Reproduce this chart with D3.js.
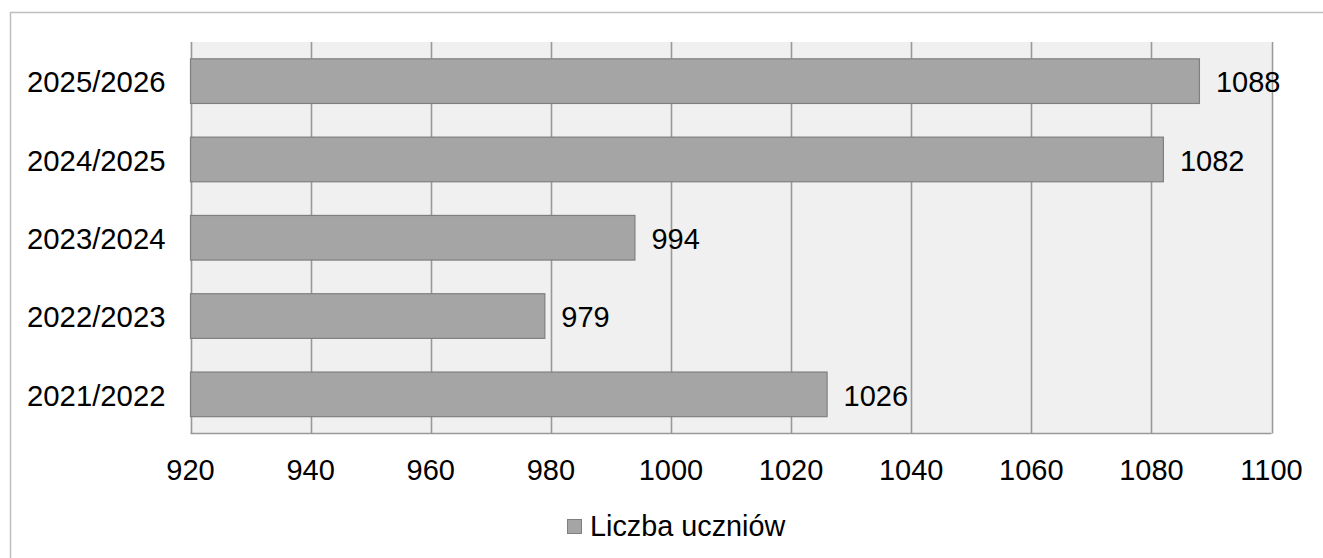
<!DOCTYPE html>
<html><head><meta charset="utf-8">
<script src="https://cdn.jsdelivr.net/npm/d3@7"></script>
<style>body{margin:0;background:#fff}svg{display:block}text{font-family:"Liberation Sans",Arial,sans-serif;fill:#000}</style>
</head><body>
<svg id="c" width="1323" height="558"></svg>
<script>
const categories = ["2025/2026","2024/2025","2023/2024","2022/2023","2021/2022"];
const values = [1088,1082,994,979,1026];
const xTicks = [920,940,960,980,1000,1020,1040,1060,1080,1100];
const seriesName = "Liczba uczniów";

const svg = d3.select("#c");
const m = {l:190.5, r:1271.5, t:42, b:433.5};
svg.append("rect").attr("x",10.5).attr("y",12.5).attr("width",1330).attr("height",600)
  .attr("fill","#fff").attr("stroke","#bfbfbf").attr("stroke-width",1.5);

const x = d3.scaleLinear().domain([920,1100]).range([m.l,m.r]);
const y = d3.scaleBand().domain(categories).range([m.t,m.b]).paddingInner(0.43).paddingOuter(0.215);

svg.append("rect").attr("x",m.l).attr("y",m.t).attr("width",m.r-m.l).attr("height",m.b-m.t).attr("fill","#f0f0f0");
svg.append("g").selectAll("line").data(xTicks).join("line")
  .attr("x1",d=>Math.round(x(d))+0.5).attr("x2",d=>Math.round(x(d))+0.5)
  .attr("y1",m.t).attr("y2",m.b).attr("stroke","#999999").attr("stroke-width",1.6);
svg.append("line").attr("x1",m.l).attr("x2",m.r).attr("y1",m.b).attr("y2",m.b).attr("stroke","#999999").attr("stroke-width",1.6);

svg.append("g").selectAll("rect").data(values).join("rect")
  .attr("x",x(920)).attr("y",(d,i)=>y(categories[i]))
  .attr("width",d=>x(d)-x(920)).attr("height",y.bandwidth())
  .attr("fill","#a5a5a5").attr("stroke","#7f7f7f").attr("stroke-width",1.2);

svg.append("g").selectAll("text").data(values).join("text")
  .attr("x",d=>x(d)+16.5).attr("y",(d,i)=>y(categories[i])+y.bandwidth()/2+1)
  .attr("dy","0.35em").attr("font-size",29).text(d=>d);

svg.append("g").selectAll("text").data(categories).join("text")
  .attr("x",m.l-25).attr("y",d=>y(d)+y.bandwidth()/2+1).attr("dy","0.35em")
  .attr("text-anchor","end").attr("font-size",29.3).text(d=>d);

svg.append("g").selectAll("text").data(xTicks).join("text")
  .attr("x",d=>x(d)).attr("y",479.5).attr("text-anchor","middle").attr("font-size",29).text(d=>d);

svg.append("rect").attr("x",567.5).attr("y",519.5).attr("width",14).attr("height",14)
  .attr("fill","#a5a5a5").attr("stroke","#7f7f7f");
svg.append("text").attr("x",590).attr("y",536).attr("font-size",28.8).text(seriesName);
</script>
</body></html>
